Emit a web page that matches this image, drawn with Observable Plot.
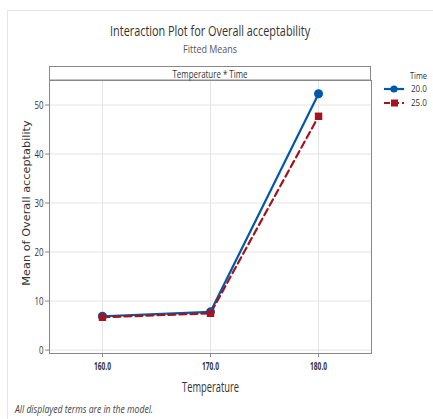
<!DOCTYPE html>
<html>
<head>
<meta charset="utf-8">
<script src="https://cdn.jsdelivr.net/npm/d3@7"></script>
<script src="https://cdn.jsdelivr.net/npm/@observablehq/plot@0.6"></script>
<style>
  html, body { margin: 0; padding: 0; background: #fff; }
  #wrap { position: relative; width: 433px; height: 419px; overflow: hidden; font-family: "Open Sans", sans-serif; color: #333; }
  #border { position: absolute; left: 7px; top: 10px; right: -2px; bottom: -2px; border-left: 1px solid #e6e6e6; border-top: 1px solid #e6e6e6; }
  .line { position: absolute; left: 0; width: 420px; text-align: center; white-space: nowrap; }
  .fit { display: inline-block; transform-origin: 50% 50%; white-space: nowrap; }
  #title { top: 21px; font-size: 15px; color: #333; line-height: 18px; height: 18px; }
  #subtitle { top: 42px; font-size: 11px; color: #555; line-height: 13px; height: 13px; }
  #chart { position: absolute; left: 0; top: 56px; }
  #chart svg { font-family: "Open Sans", sans-serif; }
  #chart g[aria-label="y-axis label"] text { font-family: "DejaVu Sans", sans-serif; font-size: 11.3px; fill: #333; }
  #chart g[aria-label="x-axis label"] text { font-size: 14px; fill: #333; }
  #chart g[aria-label="x-axis tick label"] text { font-weight: bold; font-size: 10px; fill: #333; }
  #chart g[aria-label="y-axis tick label"] text { font-size: 11px; fill: #333; }
  #legend { position: absolute; left: 383px; top: 70px; font-size: 9px; color: #333; }
  #legend .ttl { position: absolute; left: 27px; top: 0; line-height: 12px; height: 12px; }
  #legend .row { position: absolute; left: 0; height: 12px; white-space: nowrap; }
  #legend .row .lab { position: absolute; left: 28px; top: 0; line-height: 12px; height: 12px; }
  #legend svg { position: absolute; left: 0; top: 1px; }
  .left { transform-origin: 0 50% !important; }
  #caption { position: absolute; left: 15px; top: 402px; font-size: 10.8px; font-style: italic; color: #444; line-height: 14px; }
</style>
</head>
<body>
<div id="wrap">
  <div id="border"></div>
  <div id="title" class="line"><span class="fit" data-w="200"></span></div>
  <div id="subtitle" class="line"><span class="fit" data-w="54"></span></div>
  <div id="chart"></div>
  <div id="legend"></div>
  <div id="caption"><span class="fit left" data-w="138"></span></div>
</div>
<script>
// ---- data ----
const titleText = "Interaction Plot for Overall acceptability";
const subtitleText = "Fitted Means";
const stripText = "Temperature * Time";
const captionText = "All displayed terms are in the model.";
const xLabel = "Temperature";
const yLabel = "Mean of Overall acceptability";
const legendTitle = "Time";
const temperatures = [160, 170, 180];
const timeLevels = ["20.0", "25.0"];
const time20 = [6.9, 7.8, 52.3];
const time25 = [6.7, 7.5, 47.7];
const yTicks = [0, 10, 20, 30, 40, 50];
const xTicks = [160, 170, 180];
const colors = ["#0058a8", "#a3141c"];

// ---- build table ----
const rows = [];
temperatures.forEach((t, i) => {
  rows.push({temp: t, mean: time20[i], time: timeLevels[0]});
  rows.push({temp: t, mean: time25[i], time: timeLevels[1]});
});
const s20 = rows.filter(d => d.time === timeLevels[0]);
const s25 = rows.filter(d => d.time === timeLevels[1]);

document.querySelector("#title .fit").textContent = titleText;
document.querySelector("#subtitle .fit").textContent = subtitleText;
document.querySelector("#caption .fit").textContent = captionText;

const W = 433, H = 340, mL = 49, mR = 62, mT = 24, mB = 43;

const plot = Plot.plot({
  width: W, height: H,
  marginLeft: mL, marginRight: mR, marginTop: mT, marginBottom: mB,
  style: {background: "transparent", overflow: "visible"},
  x: {domain: [155.1, 184.9]},
  y: {domain: [-0.7, 55]},
  color: {domain: timeLevels, range: colors},
  marks: [
    Plot.gridX(xTicks, {stroke: "#e4e4e4", strokeOpacity: 1}),
    Plot.gridY(yTicks, {stroke: "#e4e4e4", strokeOpacity: 1}),
    Plot.axisX(xTicks, {tickFormat: d => d.toFixed(1), tickSize: 4, tickPadding: 5, stroke: "#888", label: xLabel, labelAnchor: "center", labelArrow: false, labelOffset: 38}),
    Plot.axisY(yTicks, {tickSize: 4, tickPadding: 2, stroke: "#888", label: yLabel, labelAnchor: "center", labelArrow: false, labelOffset: 27.5}),
    Plot.line(s20, {x: "temp", y: "mean", stroke: colors[0], strokeWidth: 2.2}),
    Plot.line(s25, {x: "temp", y: "mean", stroke: colors[1], strokeWidth: 2.2, strokeDasharray: "7,4"}),
    Plot.dot(s20, {x: "temp", y: "mean", fill: colors[0], r: 4.5, symbol: "circle"}),
    Plot.dot(s25, {x: "temp", y: "mean", fill: colors[1], r: 4.2, symbol: "square"}),
    Plot.frame({stroke: "#888", strokeWidth: 1})
  ]
});
document.getElementById("chart").appendChild(plot);

// strip header above plot area
const svg = d3.select(plot);
svg.append("rect")
  .attr("x", mL + 0.5).attr("y", 10.5)
  .attr("width", W - mL - mR - 1).attr("height", mT - 10.5)
  .attr("fill", "#fff").attr("stroke", "#888");
svg.append("text")
  .attr("class", "strip")
  .attr("x", mL + (W - mL - mR) / 2).attr("y", 21.5)
  .attr("text-anchor", "middle")
  .attr("font-size", 10.5).attr("fill", "#333")
  .text(stripText);

// legend
const leg = d3.select("#legend");
leg.append("div").attr("class", "ttl").append("span").attr("class", "fit left").attr("data-w", 17).text(legendTitle);
timeLevels.forEach((lv, i) => {
  const row = leg.append("div").attr("class", "row").style("top", (13 + i * 14) + "px");
  const sw = row.append("svg").attr("width", 24).attr("height", 10);
  sw.append("line").attr("x1", 1).attr("x2", 21).attr("y1", 5).attr("y2", 5)
    .attr("stroke", colors[i]).attr("stroke-width", 2.2)
    .attr("stroke-dasharray", i === 1 ? "6,3" : null);
  if (i === 0) sw.append("circle").attr("cx", 11).attr("cy", 5).attr("r", 3.6).attr("fill", colors[i]);
  else sw.append("rect").attr("x", 8).attr("y", 1.5).attr("width", 7).attr("height", 7).attr("fill", colors[i]);
  row.append("div").attr("class", "lab").append("span").attr("class", "fit left").attr("data-w", 16).text(lv);
});

// condense text horizontally to match the narrow original typeface
function condense() {
  document.querySelectorAll(".fit").forEach(el => {
    el.style.transform = "none";
    const w = el.getBoundingClientRect().width;
    const target = +el.dataset.w;
    if (w > 0) el.style.transform = `scaleX(${target / w})`;
  });
  const squeeze = (sel, k) => svg.selectAll(sel).each(function() {
    this.removeAttribute("textLength");
    const L = this.getComputedTextLength();
    this.setAttribute("textLength", L * k);
    this.setAttribute("lengthAdjust", "spacingAndGlyphs");
  });
  squeeze('g[aria-label="x-axis tick label"] text', 0.66);
  squeeze('g[aria-label="y-axis tick label"] text', 0.72);
  const fitTo = (sel, w) => svg.selectAll(sel).attr("textLength", w).attr("lengthAdjust", "spacingAndGlyphs");
  fitTo('g[aria-label="x-axis label"] text', 57);
  fitTo('text.strip', 75);
  svg.selectAll('g[aria-label="y-axis label"] text').attr("dx", 14);
}
condense();
if (document.fonts && document.fonts.ready) document.fonts.ready.then(condense);
</script>
</body>
</html>
